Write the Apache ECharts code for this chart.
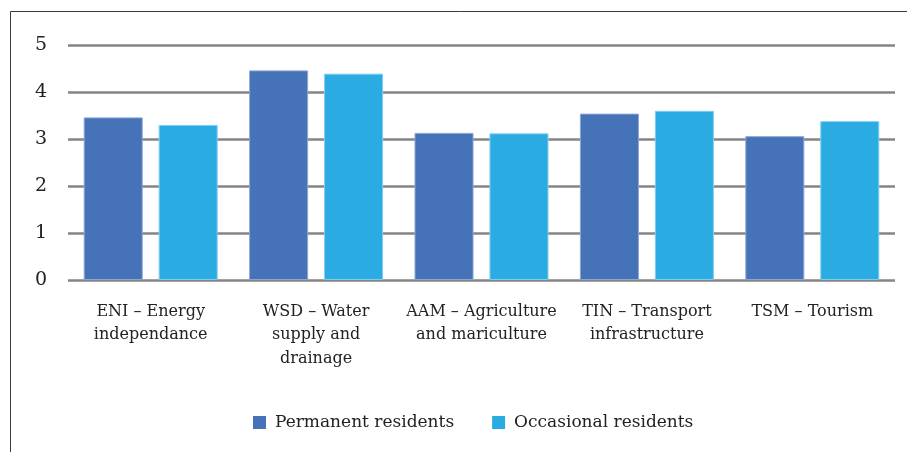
<!DOCTYPE html>
<html>
<head>
<meta charset="utf-8">
<script src="https://cdn.jsdelivr.net/npm/echarts@6/dist/echarts.min.js"></script>
<style>
html,body{margin:0;padding:0;background:#fff;}
#c{width:907px;height:452px;}
</style>
</head>
<body>
<div id="c"></div>
<script>
var categories = [
  "ENI – Energy\nindependance",
  "WSD – Water\nsupply and\ndrainage",
  "AAM – Agriculture\nand mariculture",
  "TIN – Transport\ninfrastructure",
  "TSM – Tourism"
];
var seriesNames = ["Permanent residents", "Occasional residents"];
var permanent = [3.46, 4.46, 3.13, 3.54, 3.06];
var occasional = [3.30, 4.39, 3.12, 3.60, 3.38];
var yTicks = [0, 1, 2, 3, 4, 5];

var font = "DejaVu Serif";
var chart = echarts.init(document.getElementById('c'), null, {renderer: 'canvas'});
chart.setOption({
  animation: false,
  backgroundColor: '#fff',
  graphic: [{
    type: 'rect',
    shape: {x: 10.5, y: 11.5, width: 1000, height: 1000},
    style: {fill: 'none', stroke: '#3a3a3a', lineWidth: 1},
    silent: true,
    z: 100
  }],
  grid: {left: 68, right: 12, top: 45, bottom: 172, containLabel: false},
  legend: {
    data: seriesNames,
    top: 409,
    left: 248,
    itemWidth: 13,
    itemHeight: 13,
    itemGap: 38,
    icon: 'rect',
    itemStyle: {borderWidth: 0},
    textStyle: {fontFamily: font, fontSize: 17, color: '#222', padding: [0,0,0,4]}
  },
  xAxis: {
    type: 'category',
    data: categories,
    axisLine: {show: false},
    axisTick: {show: false},
    axisLabel: {
      interval: 0,
      margin: 20,
      fontFamily: font,
      fontSize: 16,
      lineHeight: 23.5,
      color: '#222'
    }
  },
  yAxis: {
    type: 'value',
    min: yTicks[0],
    max: yTicks[yTicks.length - 1],
    interval: 1,
    axisLine: {show: false},
    axisTick: {show: false},
    axisLabel: {
      margin: 21,
      fontFamily: font,
      fontSize: 19,
      color: '#222'
    },
    splitLine: {lineStyle: {color: '#858585', width: 2.5}}
  },
  series: [{
    name: seriesNames[0],
    type: 'bar',
    data: permanent,
    barGap: '27%',
    barCategoryGap: '19%',
    itemStyle: {color: '#4672B8', borderColor: '#8DA5D6', borderWidth: 1}
  }, {
    name: seriesNames[1],
    type: 'bar',
    data: occasional,
    itemStyle: {color: '#2AACE3', borderColor: '#7FCDEF', borderWidth: 1}
  }]
});
</script>
</body>
</html>
